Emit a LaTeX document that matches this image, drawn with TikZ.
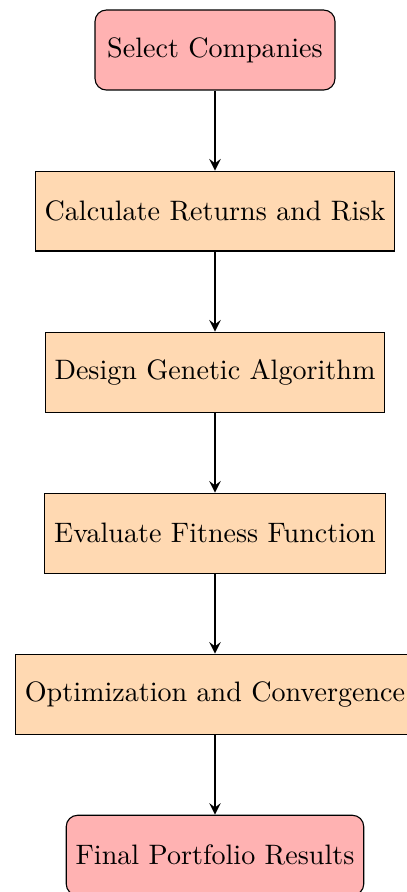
\documentclass[tikz,border=0pt]{standalone}
\usetikzlibrary{positioning,arrows}
\begin{document}
\begin{tikzpicture}[
  node distance=1cm,
  startstop/.style={rectangle, rounded corners, minimum width=3cm, minimum height=1cm, text centered, draw=black, fill=red!30},
  process/.style={rectangle, minimum width=3cm, minimum height=1cm, text centered, draw=black, fill=orange!30},
  arrow/.style={thick,->,>=stealth}
]
\useasboundingbox (-76.5pt,17.8pt) rectangle (68pt,-299.6pt);
\node (start) [startstop] {Select Companies};
\node (calc) [process, below=of start] {Calculate Returns and Risk};
\node (design) [process, below=of calc] {Design Genetic Algorithm};
\node (eval) [process, below=of design] {Evaluate Fitness Function};
\node (opt) [process, below=of eval] {Optimization and Convergence};
\node (final) [startstop, below=of opt] {Final Portfolio Results};
\draw [arrow] (start) -- (calc);
\draw [arrow] (calc) -- (design);
\draw [arrow] (design) -- (eval);
\draw [arrow] (eval) -- (opt);
\draw [arrow] (opt) -- (final);
\end{tikzpicture}
\end{document}
